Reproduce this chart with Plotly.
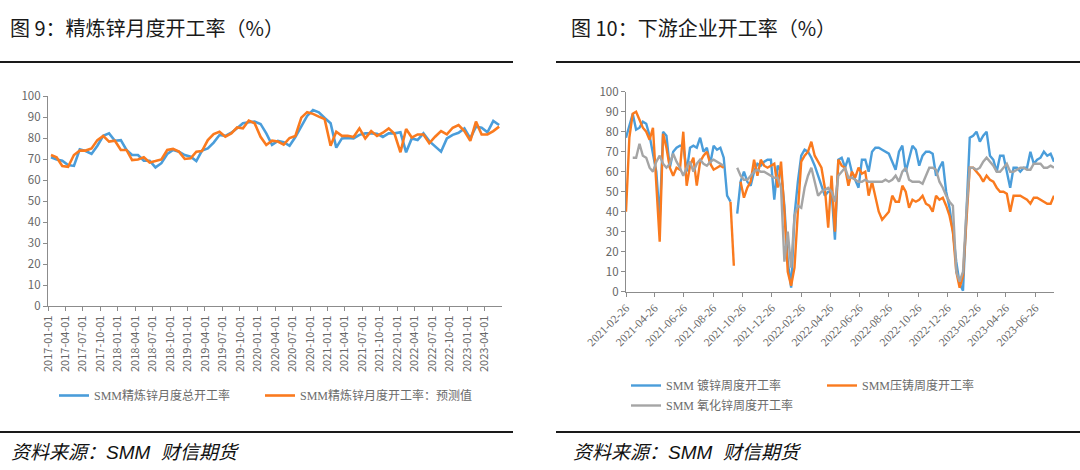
import pandas as pd
import plotly.graph_objects as go

W, H = 1080, 470

# ---------------- Left chart data (monthly, 2017-01 .. 2023-06) ----------------
left_months = pd.date_range("2017-01-01", periods=78, freq="MS")
left_total = [70.8, 69.8, 69.2, 67.1, 66.7, 74.6, 73.8, 72.4, 76.3, 81.0,
              82.2, 78.7, 79.0, 74.3, 71.9, 71.9, 69.2, 69.2, 66.0, 68.0,
              72.4, 74.3, 73.5, 71.9, 71.1, 69.0, 74.0, 75.0, 77.8, 81.4,
              81.0, 82.5, 84.6, 87.0, 87.5, 87.8, 86.7, 82.2, 76.7, 78.6,
              78.0, 76.3, 80.5, 85.5, 90.5, 93.3, 92.2, 89.5, 87.0, 75.4,
              79.8, 80.0, 79.8, 81.5, 82.2, 82.2, 82.0, 80.5, 82.2, 82.2,
              82.7, 73.2, 79.8, 79.0, 82.2, 78.5, 76.0, 73.5, 79.8, 81.5,
              82.5, 84.6, 79.8, 85.4, 84.9, 82.7, 88.1, 86.2]
left_forecast = [71.9, 70.8, 66.7, 66.3, 71.9, 74.0, 74.0, 75.0, 79.0, 81.0,
                 78.3, 78.7, 74.3, 74.3, 69.5, 69.8, 70.8, 68.3, 69.0, 69.8,
                 74.3, 74.8, 73.5, 70.0, 70.3, 73.5, 73.8, 79.0, 81.9, 83.0,
                 80.6, 82.2, 85.0, 84.6, 88.3, 87.0, 80.6, 76.7, 78.7, 78.3,
                 76.8, 80.0, 81.0, 89.7, 92.3, 91.5, 90.2, 89.0, 76.3, 83.0,
                 81.0, 81.1, 80.5, 84.6, 79.8, 83.3, 81.0, 82.5, 84.6, 82.0,
                 73.2, 84.3, 80.2, 81.7, 81.7, 77.5, 80.6, 83.3, 81.7, 84.9,
                 86.2, 83.3, 78.6, 87.8, 81.7, 81.7, 83.3, 85.4]
left_ticks = ["2017-01-01", "2017-04-01", "2017-07-01", "2017-10-01",
              "2018-01-01", "2018-04-01", "2018-07-01", "2018-10-01",
              "2019-01-01", "2019-04-01", "2019-07-01", "2019-10-01",
              "2020-01-01", "2020-04-01", "2020-07-01", "2020-10-01",
              "2021-01-01", "2021-04-01", "2021-07-01", "2021-10-01",
              "2022-01-01", "2022-04-01", "2022-07-01", "2022-10-01",
              "2023-01-01", "2023-04-01"]
left_names = ["SMM精炼锌月度总开工率", "SMM精炼锌月度开工率：预测值"]

# ---------------- Right chart data (weekly, from 2021-02-26) ----------------
right_weeks = pd.date_range("2021-02-26", periods=128, freq="7D")
N = None
galv = [77, 83, 89, 81, 82, 85, 84, 78, 68, 60,
        36, 80, 78, 62, 70, 72, 73, 73, 60, 72,
        73, 72, 77, 70, 72, 64, 73, 71, 72, 67,
        48, 45, N, 39, 55, 60, 55, 53, 60, 64,
        63, 65, 66, 66, 46, 63, 60, 43, 15, 2,
        38, 55, 68, 71, 70, 67, 63, 58, 53, 48,
        50, 50, 26, 66, 67, 62, 67, 60, 56, 52,
        66, 66, 60, 70, 72, 72, 71, 70, 69, 65,
        61, 70, 73, 60, 66, 73, 71, 63, 68, 70,
        70, 69, 58, 62, 65, 50, 42, 30, 15, 4,
        0.5, 40, 77, 78, 80, 75, 78, 80, 68, 66,
        60, 68, 68, 60, 52, 62, 62, 60, 62, 62,
        70, 64, 66, 67, 70, 68, 69, 65]
diecast = [40, 77, 89, 90, 86, 82, 80, 76, 82, 55,
           25, 79, 72, 62, 58, 62, 61, 80, 53, 63,
           67, 53, 65, 68, 70, 64, 61, 62, 63, 62,
           N, 45, 13, N, 55, 47, 52, 55, 66, 58,
           66, 63, 62, 63, 64, 52, 65, 40, 10, 3,
           12, 40, 65, 68, 70, 75, 68, 65, 62, 52,
           32, 58, 30, 66, 63, 62, 53, 60, 57, 62,
           59, 60, 48, 55, 47, 40, 36, 38, 40, 48,
           45, 45, 53, 50, 42, 46, 45, 46, 48, 44,
           43, 40, 48, 46, 47, 43, 38, 30, 10, 2,
           8, 35, 62, 62, 60, 58, 55, 58, 56, 55,
           52, 50, 50, 49, 40, 48, 48, 48, 47, 46,
           44, 47, 47, 46, 45, 44, 44, 48]
zinc_oxide = [N, N, 67, 67, 74, 68, 67, 62, 60, 65,
              68, 64, 62, 64, 69, 65, 62, 58, 62, 65,
              60, 64, 66, 64, 63, 65, 66, 65, 64, 63,
              N, N, N, 62, 58, 56, 56, 58, 60, 61,
              60, 60, 59, 58, 57, 57, 52, 15, 30, 12,
              38, 43, 42, 52, 58, 62, 55, 48, 50, 51,
              52, 50, 45, 58, 60, 62, 57, 57, 56, 55,
              55, 56, 55, 55, 55, 55, 55, 56, 55, 56,
              58, 55, 60, 62, 56, 55, 55, 55, 54, 58,
              62, 62, 61, 55, 52, 48, 45, 43, 10, 5,
              10, 40, 62, 62, 61, 62, 65, 67, 65, 63,
              60, 60, 62, 64, 60, 60, 61, 62, 62, 61,
              61, 64, 64, 64, 62, 62, 63, 62]
right_ticks = ["2021-02-26", "2021-04-26", "2021-06-26", "2021-08-26",
               "2021-10-26", "2021-12-26", "2022-02-26", "2022-04-26",
               "2022-06-26", "2022-08-26", "2022-10-26", "2022-12-26",
               "2023-02-26", "2023-04-26", "2023-06-26"]
right_names = ["SMM 镀锌周度开工率", "SMM压铸周度开工率", "SMM 氧化锌周度开工率"]

titles = ["图 9：精炼锌月度开工率（%）", "图 10：下游企业开工率（%）"]
source = "资料来源：SMM  财信期货"

BLUE = "#4A9DDA"
ORANGE = "#FA7A1E"
GRAY = "#A5A5A5"
AXIS = "#8C8C8C"
TICKTXT = "#666666"
CJK = "Noto Sans CJK SC"
SERIF = "Liberation Serif, Noto Sans CJK SC"


def px(x):
    return x / W


def py(y):
    return 1 - y / H


fig = go.Figure()

fig.add_trace(go.Scatter(x=left_months, y=left_total, name=left_names[0],
                         mode="lines", line=dict(color=BLUE, width=2.6),
                         xperiod="M1", xperiodalignment="middle",
                         xaxis="x", yaxis="y", legend="legend"))
fig.add_trace(go.Scatter(x=left_months, y=left_forecast, name=left_names[1],
                         mode="lines", line=dict(color=ORANGE, width=2.6),
                         xperiod="M1", xperiodalignment="middle",
                         xaxis="x", yaxis="y", legend="legend2"))

fig.add_trace(go.Scatter(x=right_weeks, y=galv, name=right_names[0],
                         mode="lines", line=dict(color=BLUE, width=2.4),
                         xaxis="x2", yaxis="y2", legend="legend3"))
fig.add_trace(go.Scatter(x=right_weeks, y=diecast, name=right_names[1],
                         mode="lines", line=dict(color=ORANGE, width=2.4),
                         xaxis="x2", yaxis="y2", legend="legend4"))
fig.add_trace(go.Scatter(x=right_weeks, y=zinc_oxide, name=right_names[2],
                         mode="lines", line=dict(color=GRAY, width=2.4),
                         xaxis="x2", yaxis="y2", legend="legend5"))

axis_common = dict(showgrid=False, zeroline=False, showline=True,
                   linecolor=AXIS, linewidth=1.3, ticks="outside",
                   ticklen=4, tickwidth=1, tickcolor=AXIS, automargin=False)

legend_common = dict(orientation="h", xanchor="left", yanchor="top",
                     bgcolor="rgba(0,0,0,0)", borderwidth=0,
                     font=dict(family=SERIF, size=12, color="#6B6B6B"),
                     itemclick=False, itemdoubleclick=False)

fig.update_layout(
    width=W, height=H, autosize=False,
    margin=dict(l=0, r=0, t=0, b=0, pad=0, autoexpand=False),
    paper_bgcolor="white", plot_bgcolor="white",
    font=dict(family=CJK, color=TICKTXT),
    showlegend=True,
    xaxis=dict(axis_common, type="date", domain=[px(48), px(502)],
               range=["2017-01-01", "2023-07-01"], anchor="y",
               tickvals=left_ticks, tickformat="%Y-%m-%d", tickangle=-90,
               tickfont=dict(family=CJK, size=11, color=TICKTXT)),
    yaxis=dict(axis_common, domain=[py(306), py(96)], range=[0, 100],
               dtick=10, anchor="x",
               tickfont=dict(family=CJK, size=11.5, color=TICKTXT)),
    xaxis2=dict(axis_common, type="date", domain=[px(626), px(1054)],
                range=["2021-02-26", "2023-08-04"], anchor="y2",
                tickvals=right_ticks, tickformat="%Y-%m-%d", tickangle=-45,
                tickfont=dict(family="Liberation Serif", size=11.5,
                              color=TICKTXT)),
    yaxis2=dict(axis_common, domain=[py(291.7), py(91.7)], range=[0, 100],
                dtick=10, anchor="x2",
                tickfont=dict(family=CJK, size=11.5, color=TICKTXT)),
    legend=dict(legend_common, x=px(54), y=py(381)),
    legend2=dict(legend_common, x=px(260), y=py(381)),
    legend3=dict(legend_common, x=px(626), y=py(371)),
    legend4=dict(legend_common, x=px(822), y=py(371)),
    legend5=dict(legend_common, x=px(626), y=py(391)),
)

shapes = []
for x0, x1 in [(0, 513), (556, 1080)]:
    for yy in (62, 432):
        shapes.append(dict(type="line", xref="paper", yref="paper",
                           x0=px(x0), x1=px(x1), y0=py(yy), y1=py(yy),
                           line=dict(color="#1A1A1A", width=2)))
fig.update_layout(shapes=shapes)

annotations = []
for t, x in zip(titles, [8, 569]):
    annotations.append(dict(text=t, x=px(x), y=py(28), xref="paper",
                            yref="paper", xanchor="left", yanchor="middle",
                            showarrow=False,
                            font=dict(family=CJK, size=20, color="#1A1A1A")))
for x in [9, 571]:
    annotations.append(dict(text="<i>" + source + "</i>", x=px(x), y=py(452),
                            xref="paper", yref="paper", xanchor="left",
                            yanchor="middle", showarrow=False,
                            font=dict(family="Liberation Sans, " + CJK,
                                      size=19, color="#111111")))
fig.update_layout(annotations=annotations)

fig.write_html("out.html")
